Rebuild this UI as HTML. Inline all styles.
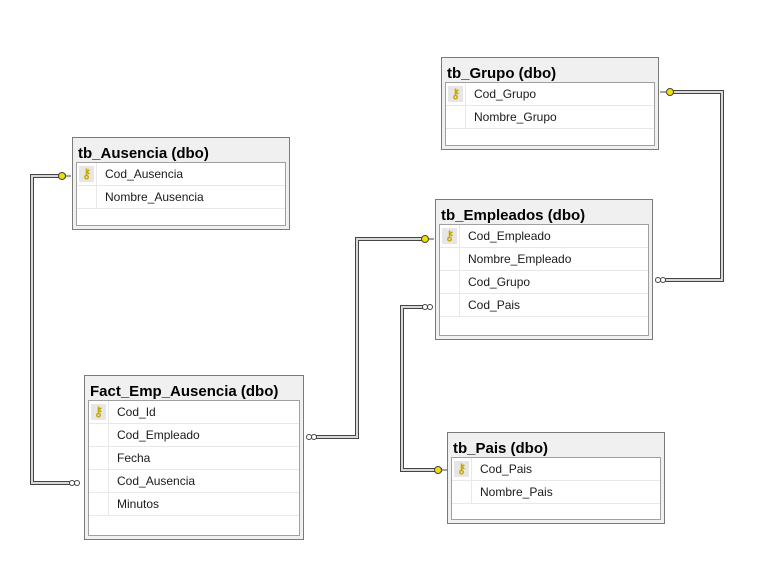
<!DOCTYPE html>
<html><head><meta charset="utf-8"><style>
body{margin:0;width:775px;height:586px;background:#fff;position:relative;overflow:hidden;font-family:"Liberation Sans",sans-serif}
.t{position:absolute;border:1px solid #7a7a7a;background:#f0f0f0;box-sizing:border-box}
.t .h{position:absolute;left:5px;top:7px;font-weight:bold;font-size:15px;color:#000;white-space:nowrap}
.t .in{position:absolute;left:3px;right:3px;top:24px;bottom:3px;border:1px solid #a0a0a0;background:#fff}
.r{height:22px;border-bottom:1px solid #e8e8e8;position:relative;font-size:12px;line-height:22px;color:#1a1a1a}
.r .g{position:absolute;left:0;top:0;width:19px;height:23px;border-right:1px solid #e8e8e8}
.r .k{position:absolute;left:2px;top:3px;width:15px;height:16px;background:#e6e6e6;font-size:13px;font-weight:bold;line-height:16px;text-align:center;color:#c8a800}
.r span.x{position:absolute;left:28px}
svg{position:absolute;left:0;top:0}
</style></head><body>
<svg width="775" height="586">
<g fill="none" stroke-linejoin="miter">
<g stroke="#444" stroke-width="4">
<polyline points="668,92 722,92 722,280 664,280"/>
<polyline points="66,176 32,176 32,483 78,483"/>
<polyline points="426,239 357,239 357,437 316,437"/>
<polyline points="424,307 402,307 402,470 442,470"/>
</g>
<g stroke="#d8d8d8" stroke-width="2">
<polyline points="668,92 722,92 722,280 664,280"/>
<polyline points="66,176 32,176 32,483 78,483"/>
<polyline points="426,239 357,239 357,437 316,437"/>
<polyline points="424,307 402,307 402,470 442,470"/>
</g>
</g>
<g fill="#f0e000" stroke="#444" stroke-width="1">
<circle cx="670" cy="92" r="3.5"/><line x1="666" y1="92" x2="660" y2="92"/>
<circle cx="62" cy="176" r="3.5"/><line x1="66" y1="176" x2="71" y2="176"/>
<circle cx="425" cy="239" r="3.5"/><line x1="429" y1="239" x2="434" y2="239"/>
<circle cx="438" cy="470" r="3.5"/><line x1="442" y1="470" x2="447" y2="470"/>
</g>
<g fill="#fff" stroke="#444" stroke-width="1">
<circle cx="658" cy="280" r="2.5"/><circle cx="663" cy="280" r="2.5"/>
<circle cx="72" cy="483" r="2.5"/><circle cx="77" cy="483" r="2.5"/>
<circle cx="309" cy="437" r="2.5"/><circle cx="314" cy="437" r="2.5"/>
<circle cx="425" cy="307" r="2.5"/><circle cx="430" cy="307" r="2.5"/>
</g>
</svg>

<div class="t" style="left:441px;top:57px;width:218px;height:93px"><div class="h">tb_Grupo (dbo)</div><div class="in">
<div class="r"><div class="g"><div class="k">&#x26B7;</div></div><span class="x">Cod_Grupo</span></div>
<div class="r"><div class="g"></div><span class="x">Nombre_Grupo</span></div></div></div>

<div class="t" style="left:72px;top:137px;width:218px;height:93px"><div class="h">tb_Ausencia (dbo)</div><div class="in">
<div class="r"><div class="g"><div class="k">&#x26B7;</div></div><span class="x">Cod_Ausencia</span></div>
<div class="r"><div class="g"></div><span class="x">Nombre_Ausencia</span></div></div></div>

<div class="t" style="left:435px;top:199px;width:218px;height:141px"><div class="h">tb_Empleados (dbo)</div><div class="in">
<div class="r"><div class="g"><div class="k">&#x26B7;</div></div><span class="x">Cod_Empleado</span></div>
<div class="r"><div class="g"></div><span class="x">Nombre_Empleado</span></div>
<div class="r"><div class="g"></div><span class="x">Cod_Grupo</span></div>
<div class="r"><div class="g"></div><span class="x">Cod_Pais</span></div></div></div>

<div class="t" style="left:84px;top:375px;width:220px;height:165px"><div class="h">Fact_Emp_Ausencia (dbo)</div><div class="in">
<div class="r"><div class="g"><div class="k">&#x26B7;</div></div><span class="x">Cod_Id</span></div>
<div class="r"><div class="g"></div><span class="x">Cod_Empleado</span></div>
<div class="r"><div class="g"></div><span class="x">Fecha</span></div>
<div class="r"><div class="g"></div><span class="x">Cod_Ausencia</span></div>
<div class="r"><div class="g"></div><span class="x">Minutos</span></div></div></div>

<div class="t" style="left:447px;top:432px;width:218px;height:92px"><div class="h">tb_Pais (dbo)</div><div class="in">
<div class="r"><div class="g"><div class="k">&#x26B7;</div></div><span class="x">Cod_Pais</span></div>
<div class="r"><div class="g"></div><span class="x">Nombre_Pais</span></div></div></div>
</body></html>
